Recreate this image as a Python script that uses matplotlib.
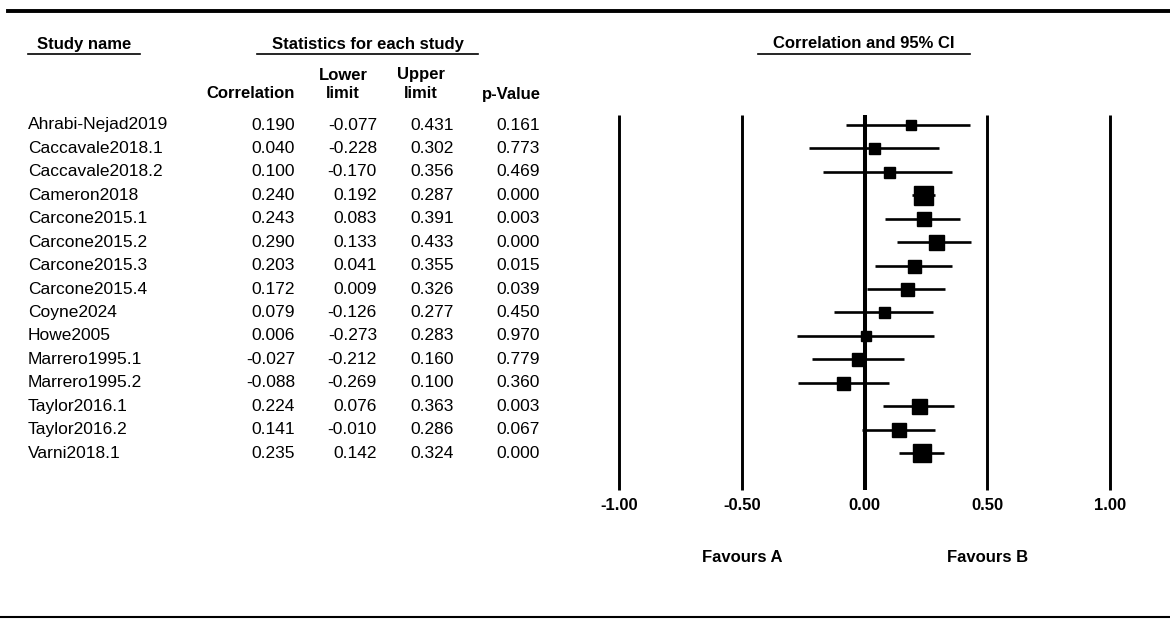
import matplotlib
matplotlib.use("Agg")
import matplotlib.pyplot as plt
import matplotlib.transforms as mtrans
from matplotlib.lines import Line2D

# ---------------- data ----------------
studies = ["Ahrabi-Nejad2019", "Caccavale2018.1", "Caccavale2018.2", "Cameron2018",
           "Carcone2015.1", "Carcone2015.2", "Carcone2015.3", "Carcone2015.4",
           "Coyne2024", "Howe2005", "Marrero1995.1", "Marrero1995.2",
           "Taylor2016.1", "Taylor2016.2", "Varni2018.1"]
correlation = [0.190, 0.040, 0.100, 0.240, 0.243, 0.290, 0.203, 0.172,
               0.079, 0.006, -0.027, -0.088, 0.224, 0.141, 0.235]
lower = [-0.077, -0.228, -0.170, 0.192, 0.083, 0.133, 0.041, 0.009,
         -0.126, -0.273, -0.212, -0.269, 0.076, -0.010, 0.142]
upper = [0.431, 0.302, 0.356, 0.287, 0.391, 0.433, 0.355, 0.326,
         0.277, 0.283, 0.160, 0.100, 0.363, 0.286, 0.324]
p_value = [0.161, 0.773, 0.469, 0.000, 0.003, 0.000, 0.015, 0.039,
           0.450, 0.970, 0.779, 0.360, 0.003, 0.067, 0.000]
# relative study weights (marker size)
weights = [10, 11, 11, 19, 14, 15, 13, 13, 11, 10, 13, 13, 15, 14, 18]
tick_values = [-1.0, -0.5, 0.0, 0.5, 1.0]
tick_labels = ["-1.00", "-0.50", "0.00", "0.50", "1.00"]

# ---------------- figure ----------------
W, H = 1170, 619
fig = plt.figure(figsize=(W / 100, H / 100), dpi=100)
plt.rcParams['font.family'] = ['Liberation Sans', 'DejaVu Sans']

def fx(px):
    return px / W

def fy(py):
    return 1 - py / H

# forest axes
ax_l, ax_r, ax_t, ax_b = 590, 1140, 112, 492
ax = fig.add_axes([fx(ax_l), fy(ax_b), (ax_r - ax_l) / W, (ax_b - ax_t) / H])
ppu = (1110 - 619) / 2.0
ax.set_xlim(-1 - (619 - ax_l) / ppu, 1 + (ax_r - 1110) / ppu)
row0, drow = 125, 23.43
ax.set_ylim((ax_b - row0) / drow, (ax_t - row0) / drow)
ax.axis("off")

n = len(studies)
rows = list(range(n))
ytop = (115 - row0) / drow
ybot = (490 - row0) / drow
for v in tick_values:
    ax.vlines(v, ytop, ybot, color="black", lw=2.9 if v == 0 else 2.1, zorder=1)

ax.hlines(rows, lower, upper, color="black", lw=1.9, zorder=2)
for i in rows:
    ax.plot(correlation[i], i, marker="s", ms=weights[i] * 0.72,
            color="black", mec="black", zorder=3)

# transforms
row_tr = mtrans.blended_transform_factory(fig.transFigure, ax.transData)
tick_tr = mtrans.blended_transform_factory(ax.transData, fig.transFigure)

fs = 12.5
# table rows
for i in rows:
    fig.text(fx(28), i, studies[i], transform=row_tr, ha="left", va="center", fontsize=fs)
    fig.text(fx(295), i, f"{correlation[i]:.3f}", transform=row_tr, ha="right", va="center", fontsize=fs)
    fig.text(fx(377), i, f"{lower[i]:.3f}", transform=row_tr, ha="right", va="center", fontsize=fs)
    fig.text(fx(454), i, f"{upper[i]:.3f}", transform=row_tr, ha="right", va="center", fontsize=fs)
    fig.text(fx(540), i, f"{p_value[i]:.3f}", transform=row_tr, ha="right", va="center", fontsize=fs)

# column headers
hfs = 12
fig.text(fx(295), fy(94), "Correlation", ha="right", va="center", fontsize=hfs, fontweight="bold")
fig.text(fx(343), fy(75), "Lower", ha="center", va="center", fontsize=hfs, fontweight="bold")
fig.text(fx(343), fy(94), "limit", ha="center", va="center", fontsize=hfs, fontweight="bold")
fig.text(fx(421), fy(75), "Upper", ha="center", va="center", fontsize=hfs, fontweight="bold")
fig.text(fx(421), fy(94), "limit", ha="center", va="center", fontsize=hfs, fontweight="bold")
fig.text(fx(541), fy(94), "p-Value", ha="right", va="center", fontsize=hfs, fontweight="bold")

# underlined section titles
for (x0, x1, label) in [(28, 140, "Study name"),
                        (257, 478, "Statistics for each study"),
                        (758, 970, "Correlation and 95% CI")]:
    fig.text(fx((x0 + x1) / 2), fy(44), label, ha="center", va="center",
             fontsize=hfs, fontweight="bold")
    fig.add_artist(Line2D([fx(x0), fx(x1)], [fy(54), fy(54)], color="black", lw=1.2,
                          transform=fig.transFigure))

# x tick labels
for v, lab in zip(tick_values, tick_labels):
    fig.text(v, fy(506), lab, transform=tick_tr, ha="center", va="center",
             fontsize=hfs, fontweight="bold")

# favours labels
fig.text(-0.5, fy(557), "Favours A", transform=tick_tr, ha="center", va="center",
         fontsize=hfs, fontweight="bold")
fig.text(0.5, fy(557), "Favours B", transform=tick_tr, ha="center", va="center",
         fontsize=hfs, fontweight="bold")

# top and bottom rules
fig.add_artist(Line2D([fx(8), 1], [fy(11), fy(11)], color="black", lw=2.8,
                      transform=fig.transFigure))
fig.add_artist(Line2D([0, 1], [fy(617), fy(617)], color="black", lw=1.5,
                      transform=fig.transFigure))

fig.savefig("out.png", dpi=100, facecolor="white")
